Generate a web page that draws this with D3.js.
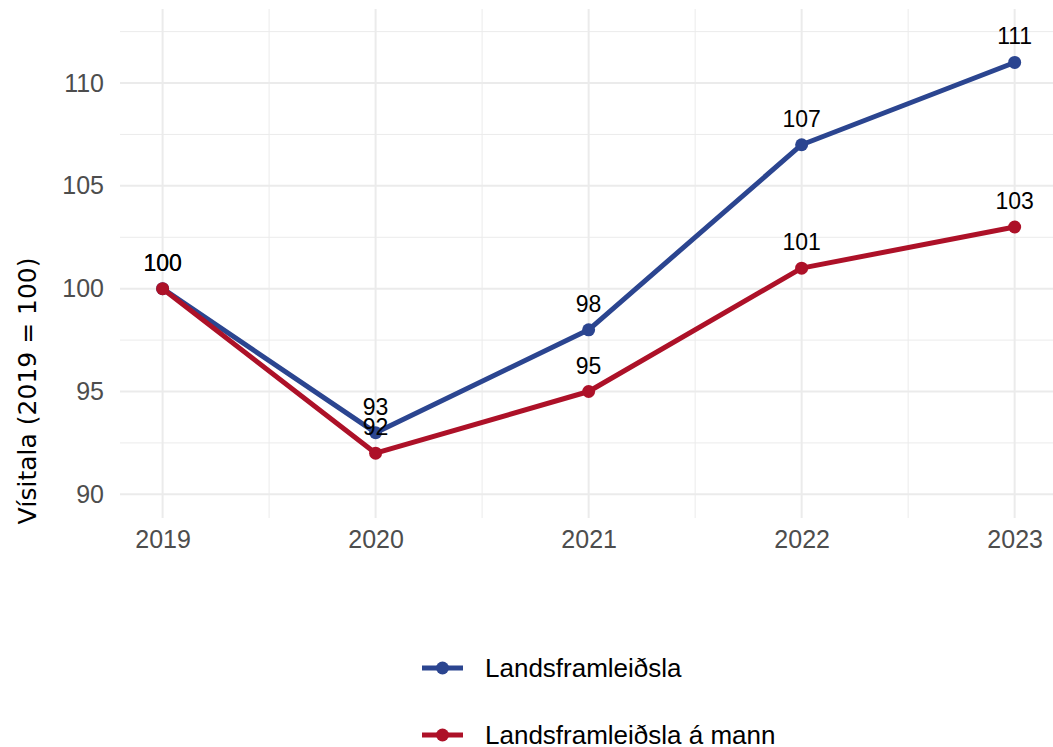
<!DOCTYPE html>
<html>
<head>
<meta charset="utf-8">
<script src="https://cdn.jsdelivr.net/npm/d3@7"></script>
<style>
  body { margin: 0; background: #fff; }
  text { font-family: "Liberation Sans", Arial, sans-serif; }
</style>
</head>
<body>
<svg id="chart" width="1053" height="747"></svg>
<script>
var years = [2019, 2020, 2021, 2022, 2023];
var gdp = [100, 93, 98, 107, 111];
var gdpPerCapita = [100, 92, 95, 101, 103];
var seriesNames = ["Landsframleiðsla", "Landsframleiðsla á mann"];
var seriesColors = ["#2b4590", "#ad1128"];
var yTicks = [90, 95, 100, 105, 110];

var svg = d3.select("#chart");
var panelLeft = 120, panelRight = 1053, panelTop = 9, panelBottom = 518;

var x = d3.scaleLinear().domain([2018.8, 2023.18]).range([panelLeft, panelRight]);
var y = d3.scaleLinear().domain([88.85, 113.6]).range([panelBottom, panelTop]);

// grid
var grid = svg.append("g");
var minorY = d3.range(92.5, 113.6, 5);
grid.selectAll(".my").data(minorY).enter().append("line")
    .attr("x1", panelLeft).attr("x2", panelRight)
    .attr("y1", function(d) { return y(d); }).attr("y2", function(d) { return y(d); })
    .attr("stroke", "#ebebeb").attr("stroke-width", 1);
var minorX = d3.range(2019.5, 2023, 1);
grid.selectAll(".mx").data(minorX).enter().append("line")
    .attr("y1", panelTop).attr("y2", panelBottom)
    .attr("x1", function(d) { return x(d); }).attr("x2", function(d) { return x(d); })
    .attr("stroke", "#ebebeb").attr("stroke-width", 1);
grid.selectAll(".gy").data(yTicks).enter().append("line")
    .attr("x1", panelLeft).attr("x2", panelRight)
    .attr("y1", function(d) { return y(d); }).attr("y2", function(d) { return y(d); })
    .attr("stroke", "#ebebeb").attr("stroke-width", 2);
grid.selectAll(".gx").data(years).enter().append("line")
    .attr("y1", panelTop).attr("y2", panelBottom)
    .attr("x1", function(d) { return x(d); }).attr("x2", function(d) { return x(d); })
    .attr("stroke", "#ebebeb").attr("stroke-width", 2);

// axes
var yAxis = svg.append("g")
    .attr("transform", "translate(" + panelLeft + ",0)")
    .call(d3.axisLeft(y).tickValues(yTicks).tickSize(0).tickPadding(16));
var xAxis = svg.append("g")
    .attr("transform", "translate(0," + panelBottom + ")")
    .call(d3.axisBottom(x).tickValues(years).tickFormat(d3.format("d")).tickSize(0).tickPadding(12));
[yAxis, xAxis].forEach(function(a) {
    a.select(".domain").remove();
    a.selectAll("text").attr("fill", "#4d4d4d").style("font-size", "25px");
});

svg.append("text")
    .attr("transform", "translate(36,391) rotate(-90)")
    .attr("text-anchor", "middle")
    .style("font-family", "'DejaVu Sans', sans-serif")
    .style("font-size", "25px")
    .attr("fill", "#000")
    .text("Vísitala (2019 = 100)");

// series
var series = [gdp, gdpPerCapita];
var line = d3.line()
    .x(function(d, i) { return x(years[i]); })
    .y(function(d) { return y(d); });

series.forEach(function(vals, s) {
    svg.append("path")
        .datum(vals)
        .attr("d", line)
        .attr("fill", "none")
        .attr("stroke", seriesColors[s])
        .attr("stroke-width", 5)
        .attr("stroke-linejoin", "round");
    svg.append("g").selectAll("circle")
        .data(vals).enter().append("circle")
        .attr("cx", function(d, i) { return x(years[i]); })
        .attr("cy", function(d) { return y(d); })
        .attr("r", 6.5)
        .attr("fill", seriesColors[s]);
});

series.forEach(function(vals, s) {
    svg.append("g").selectAll("text")
        .data(vals).enter().append("text")
        .attr("x", function(d, i) { return x(years[i]); })
        .attr("y", function(d) { return y(d) - 18; })
        .attr("text-anchor", "middle")
        .style("font-size", "23px")
        .attr("fill", "#000")
        .text(function(d) { return d; });
});

// legend
var legend = svg.append("g");
seriesNames.forEach(function(name, i) {
    var ly = 668 + i * 67;
    legend.append("line")
        .attr("x1", 422).attr("x2", 463)
        .attr("y1", ly).attr("y2", ly)
        .attr("stroke", seriesColors[i]).attr("stroke-width", 5);
    legend.append("circle")
        .attr("cx", 442.5).attr("cy", ly).attr("r", 6.5)
        .attr("fill", seriesColors[i]);
    legend.append("text")
        .attr("x", 485).attr("y", ly)
        .attr("dy", "0.35em")
        .style("font-size", "26px")
        .attr("fill", "#000")
        .text(name);
});
</script>
</body>
</html>
